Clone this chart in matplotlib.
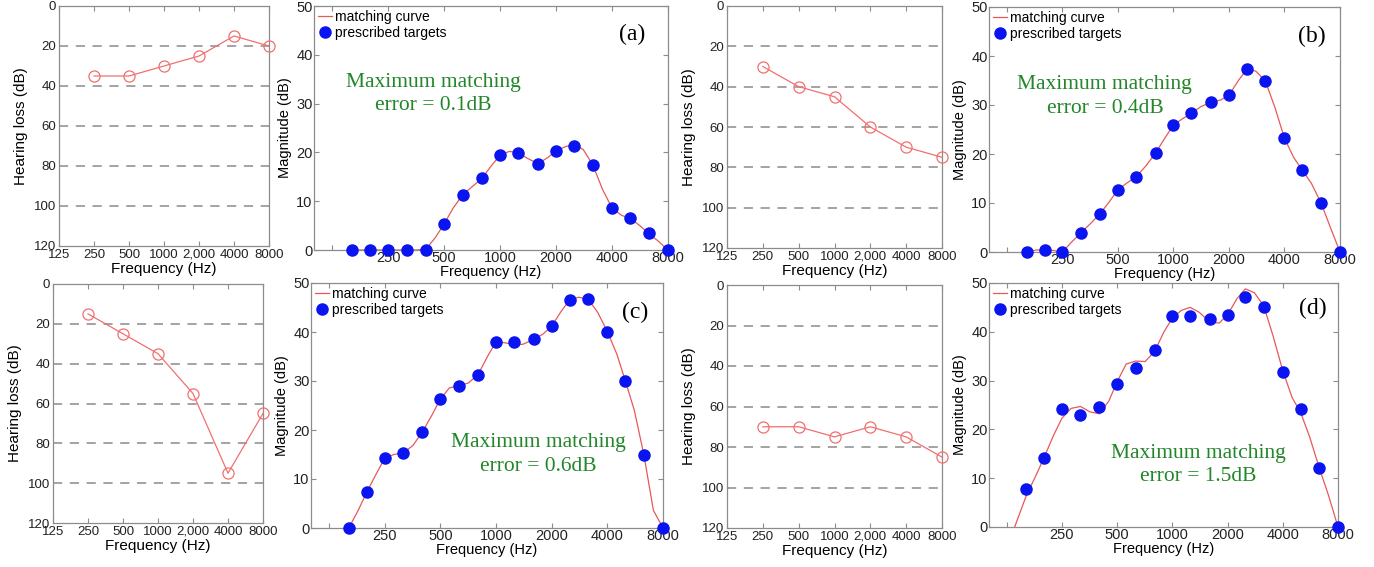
import matplotlib
matplotlib.use("Agg")
import matplotlib.pyplot as plt
from matplotlib.ticker import FixedLocator, FixedFormatter

plt.rcParams["font.family"] = ["Liberation Sans", "DejaVu Sans"]

# audiograms (hearing loss in dB at each audiometric frequency)
aud_freqs = [250, 500, 1000, 2000, 4000, 8000]
aud_a = [35, 35, 30, 25, 15, 20]
aud_b = [30, 40, 45, 60, 70, 75]
aud_c = [15, 25, 35, 55, 95, 65]
aud_d = [70, 70, 75, 70, 75, 85]
aud_ticks = [125, 250, 500, 1000, 2000, 4000, 8000]
aud_ticklabels = ["125", "250", "500", "1000", "2,000", "4000", "8000"]
aud_grid = [20, 40, 60, 80, 100]

# prescribed targets, 1/3 octave from 160 Hz to 8 kHz
tgt_freqs = [160, 200, 250, 315, 400, 500, 630, 800, 1000, 1250,
             1600, 2000, 2500, 3150, 4000, 5000, 6300, 8000]
tgt_a = [0, 0, 0, 0, 0, 5.3, 11.3, 14.7, 19.4, 19.9,
         17.7, 20.3, 21.4, 17.5, 8.6, 6.5, 3.4, 0]
tgt_b = [0, 0.4, 0, 3.9, 7.8, 12.7, 15.4, 20.2, 25.9, 28.3,
         30.6, 32.0, 37.3, 34.9, 23.2, 16.7, 10.1, 0]
tgt_c = [0, 7.3, 14.2, 15.3, 19.6, 26.3, 29.0, 31.3, 38.0, 37.9,
         38.5, 41.2, 46.5, 46.7, 40.1, 30.1, 15.0, 0]
tgt_d = [7.8, 14.2, 24.1, 23.0, 24.6, 29.4, 32.6, 36.2, 43.3, 43.3,
         42.6, 43.5, 47.1, 45.0, 31.7, 24.1, 12.0, 0]

curve_freqs = [160, 180, 200, 225, 250, 280, 315, 355, 400, 450, 500, 560,
               630, 710, 800, 900, 1000, 1120, 1250, 1400, 1600, 1800, 2000,
               2250, 2500, 2800, 3150, 3550, 4000, 4500, 5000, 5600, 6300,
               7100, 8000]
curve_a = [0, 0, 0, 0, 0, 0, 0, 0, 0.2, 2.6, 5.3, 8.6,
           11.3, 13.0, 14.7, 17.3, 19.4, 20.2, 20.0, 18.8, 17.7, 18.9, 20.3,
           21.2, 21.6, 20.6, 17.5, 12.5, 8.6, 7.1, 6.5, 5.1, 3.4,
           1.8, 0]
curve_b = [0, 0.4, 0.4, 0.3, 0, 2.0, 3.9, 5.8, 7.8, 10.3, 12.7, 14.1,
           15.4, 17.6, 20.2, 23.3, 25.9, 27.2, 28.3, 29.6, 30.6, 31.0, 32.0,
           35.0, 37.3, 36.9, 34.9, 29.5, 23.2, 19.2, 16.7, 14.0, 10.1,
           5.0, 0]
curve_c = [0, 3.6, 7.3, 11.0, 14.2, 15.0, 15.3, 16.8, 19.6, 23.0, 26.3, 28.6,
           29.0, 29.6, 31.3, 35.0, 38.0, 37.8, 37.4, 37.5, 38.5, 39.6, 41.2,
           44.2, 46.5, 47.1, 46.7, 44.0, 40.1, 35.5, 30.1, 24.0, 15.0,
           3.6, 0]
curve_d_freqs = [138, 160, 180, 200, 225, 250, 280, 315, 355, 400, 450, 500,
                 560, 630, 710, 800, 900, 1000, 1120, 1250, 1400, 1600, 1800,
                 2000, 2250, 2500, 2800, 3150, 3550, 4000, 4500, 5000, 5600,
                 6300, 7100, 8000]
curve_d = [0, 6.5, 10.5, 14.3, 18.8, 22.3, 24.3, 24.7, 23.6, 23.2, 25.8, 29.8,
           33.4, 34.0, 33.9, 36.0, 40.0, 42.8, 44.4, 45.0, 44.0, 42.0, 41.8,
           43.5, 46.8, 48.8, 48.0, 45.3, 39.0, 32.0, 26.5, 23.5, 18.5,
           12.3, 6.5, 0]
mag_ticks = [125, 250, 500, 1000, 2000, 4000, 8000]
mag_ticklabels = ["", "250", "500", "1000", "2000", "4000", "8000"]

errors = ["0.1", "0.4", "0.6", "1.5"]
panels = ["(a)", "(b)", "(c)", "(d)"]

W, H = 1374, 567
fig = plt.figure(figsize=(W / 100, H / 100), dpi=100)


def box(l, r, t, b):
    return fig.add_axes([l / W, 1 - b / H, (r - l) / W, (b - t) / H])


def style(ax):
    for s in ax.spines.values():
        s.set_color("#8c8c8c")
        s.set_linewidth(0.9)
    ax.tick_params(direction="in", top=True, right=True, length=3.5,
                   color="#8c8c8c", labelcolor="#222222", pad=2)
    ax.tick_params(which="minor", length=0)


def audiogram(ax, hl):
    for g in aud_grid:
        ax.axhline(g, ls=(0, (6, 5)), color="#8a8a8a", lw=1.1, zorder=1)
    ax.plot(aud_freqs, hl, "-o", color="#f07070", mfc="none", ms=8,
            mew=0.9, lw=0.9, clip_on=False, zorder=3)
    ax.set_xscale("log", base=2)
    ax.set_xlim(125, 8000)
    ax.set_ylim(120, 0)
    ax.xaxis.set_major_locator(FixedLocator(aud_ticks))
    ax.xaxis.set_major_formatter(FixedFormatter(aud_ticklabels))
    ax.set_yticks([0, 20, 40, 60, 80, 100, 120])
    style(ax)
    ax.tick_params(labelsize=9.5)
    ax.tick_params(axis="y", length=0)
    ax.set_xlabel("Frequency (Hz)", fontsize=11, labelpad=1)
    ax.set_ylabel("Hearing loss (dB)", fontsize=11, labelpad=4)


def magnitude(ax, cf, cv, tv, err, tag, txt_pos, tag_pos):
    ax.plot(cf, cv, color="#e85858", lw=0.9, label="matching curve", zorder=2)
    ax.plot(tgt_freqs, tv, "o", color="#0a14f0", ms=8, ls="none",
            label="prescribed targets", clip_on=False, zorder=3)
    ax.set_xscale("log", base=2)
    ax.set_xlim(100, 8000)
    ax.set_ylim(0, 50)
    ax.xaxis.set_major_locator(FixedLocator(mag_ticks))
    ax.xaxis.set_major_formatter(FixedFormatter(mag_ticklabels))
    ax.set_yticks([0, 10, 20, 30, 40, 50])
    style(ax)
    ax.tick_params(labelsize=10.5, pad=1)
    ax.set_xlabel("Frequency (Hz)", fontsize=10.5, labelpad=0)
    ax.set_ylabel("Magnitude (dB)", fontsize=10.5, labelpad=3)
    ax.legend(loc="upper left", frameon=False, fontsize=10,
              handlelength=1.0, handletextpad=0.2, borderaxespad=0.1,
              labelspacing=0.15, borderpad=0.2, markerscale=1.0)
    ax.text(txt_pos[0], txt_pos[1],
            "Maximum matching\nerror = " + err + "dB",
            transform=ax.transAxes, ha="center", va="center",
            family="Liberation Serif", fontsize=15.5, color="#23862a",
            linespacing=1.3)
    ax.text(tag_pos[0], tag_pos[1], tag, transform=ax.transAxes,
            ha="center", va="center", family="Liberation Serif",
            fontsize=17, color="black")


audiogram(box(59, 269, 6, 246), aud_a)
magnitude(box(314, 668, 6, 250), curve_freqs, curve_a, tgt_a, errors[0],
          panels[0], (0.336, 0.64), (0.90, 0.885))
audiogram(box(727, 942, 6, 248), aud_b)
magnitude(box(989, 1340, 7, 252), curve_freqs, curve_b, tgt_b, errors[1],
          panels[1], (0.33, 0.635), (0.92, 0.88))
audiogram(box(53, 263, 284, 523), aud_c)
magnitude(box(311, 663, 283, 528), curve_freqs, curve_c, tgt_c, errors[2],
          panels[2], (0.645, 0.30), (0.92, 0.88))
audiogram(box(727, 942, 285, 528), aud_d)
magnitude(box(989, 1338, 283, 527), curve_d_freqs, curve_d, tgt_d, errors[3],
          panels[3], (0.60, 0.255), (0.928, 0.895))

fig.savefig("out.png", dpi=100, facecolor="white")
